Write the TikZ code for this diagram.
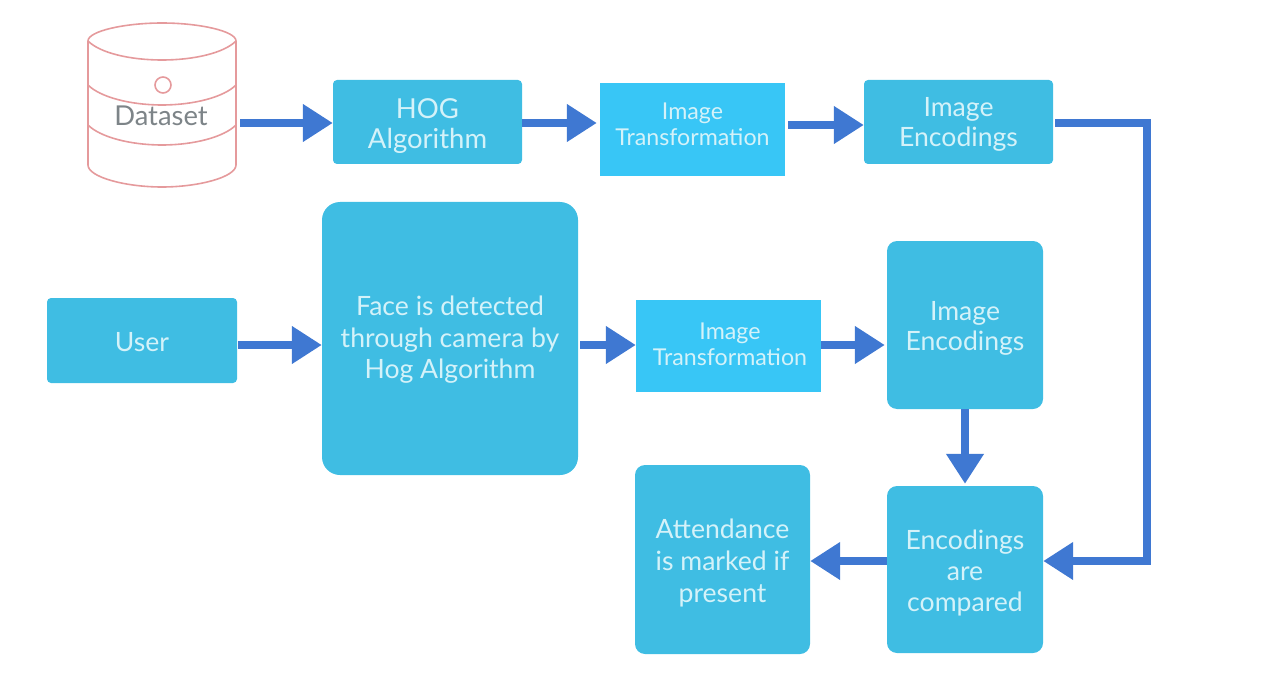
\documentclass[tikz,border=0pt]{standalone}
\usepackage{fontspec}
\setmainfont{Lato}
\usetikzlibrary{arrows.meta}
\definecolor{boxblue}{HTML}{3FBDE3}
\definecolor{boxlight}{HTML}{38C6F6}
\definecolor{txtlight}{HTML}{D4F2F9}
\definecolor{arrowblue}{HTML}{3F78D2}
\definecolor{dbred}{HTML}{E59A9C}
\definecolor{dbtext}{HTML}{7D8488}
\newcommand{\tx}[2]{\raisebox{#1pt}[0pt][0pt]{\begin{tabular}{@{}c@{}}#2\end{tabular}}}
\tikzset{
  x=1pt,y=-1pt,
  bx/.style={fill=boxblue,rounded corners=4pt,inner sep=0pt,align=center,text=txtlight,font=\fontsize{26.6}{31}\selectfont},
  bxl/.style={fill=boxlight,inner sep=0pt,align=center,text=txtlight,font=\fontsize{23.2}{26}\selectfont},
  conn/.style={draw=arrowblue,line width=8pt,-{Triangle[length=30pt,width=36pt,fill=arrowblue]}},
  dbline/.style={draw=dbred,line width=1.6pt},
}
\begin{document}
\begin{tikzpicture}
\useasboundingbox (0,0) rectangle (1287,679);
% database
\draw[dbline] (88,41) .. controls (88,31) and (125,23) .. (162,23) .. controls (199,23) and (236,31) .. (236,41) -- (236,165)
  .. controls (236,177) and (199,187) .. (162,187) .. controls (125,187) and (88,177) .. (88,165) -- cycle;
\draw[dbline] (88,41) .. controls (100,53) and (130,60) .. (162,60) .. controls (194,60) and (224,53) .. (236,41);
\draw[dbline] (88,85) .. controls (100,97) and (130,105) .. (162,105) .. controls (194,105) and (224,97) .. (236,85);
\draw[dbline] (88,125) .. controls (100,137) and (130,145) .. (162,145) .. controls (194,145) and (224,137) .. (236,125);
\draw[dbline] (163,85) circle (8);
\node[inner sep=0pt,text=dbtext,font=\fontsize{27.4}{30}\selectfont] (dslabel) at (161,116) {Dataset};
\node[inner sep=0pt,minimum width=152pt,minimum height=164pt] (ds) at (164,123) {};
% boxes
\node[bx,font=\fontsize{27.5}{30}\selectfont,minimum width=189pt,minimum height=84pt] (hog) at (427.5,122) {\tx{-11.9}{HOG\\Algorithm}};
\node[bxl,minimum width=185pt,minimum height=93pt] (t1) at (692.5,129.5) {\tx{-3.8}{Image\\Transformation}};
\node[bx,font=\fontsize{26.6}{30}\selectfont,minimum width=189pt,minimum height=84pt] (e1) at (958.5,122) {\tx{-10.1}{Image\\Encodings}};
\node[bx,minimum width=190pt,minimum height=85pt] (user) at (142,340.5) {\tx{-10.6}{User}};
\node[bx,font=\fontsize{26.6}{31.5}\selectfont,rounded corners=18pt,minimum width=256pt,minimum height=273pt] (face) at (450,338.5) {\tx{-8.6}{Face is detected\\through camera by\\Hog Algorithm}};
\node[bxl,minimum width=185pt,minimum height=92pt] (t2) at (728.5,346) {\hspace{3pt}\tx{-7.8}{Image\\Transformation}};
\node[bx,font=\fontsize{26.6}{30}\selectfont,rounded corners=10pt,minimum width=156pt,minimum height=168pt] (e2) at (965,325) {\tx{-10.6}{Image\\Encodings}};
\node[bx,rounded corners=10pt,minimum width=156pt,minimum height=167pt] (cmp) at (965,569.5) {\tx{-10.6}{Encodings\\are\\compared}};
\node[bx,font=\fontsize{26.6}{32}\selectfont,rounded corners=10pt,minimum width=175pt,minimum height=189pt] (att) at (722.5,559.5) {\tx{-10.6}{Attendance\\is marked if\\present}};
% connectors
\coordinate (c1) at (1147,123);
\coordinate (c2) at (1147,561);
\coordinate (dsout) at (240,123);
\draw[conn] (dsout) -- (hog.west |- dsout);
\draw[conn,shorten >=3pt] (hog.east |- dsout) -- (t1.west |- dsout);
\coordinate (r2) at (788,125);
\draw[conn] (r2) -- (e1.west |- r2);
\coordinate (ur) at (238,345);
\draw[conn] (ur) -- (face.west |- ur);
\draw[conn,shorten <=2pt] (face.east |- ur) -- (t2.west |- ur);
\draw[conn,shorten >=2pt] (t2.east |- ur) -- (e2.west |- ur);
\draw[conn,shorten >=2pt] (e2.south) -- (cmp.north);
\draw[conn] (cmp.west |- c2) -- (att.east |- c2);
\draw[conn,line join=miter,shorten <=2pt] (e1.east |- c1) -- (c1) -- (c2) -- (cmp.east |- c2);
\end{tikzpicture}
\end{document}
